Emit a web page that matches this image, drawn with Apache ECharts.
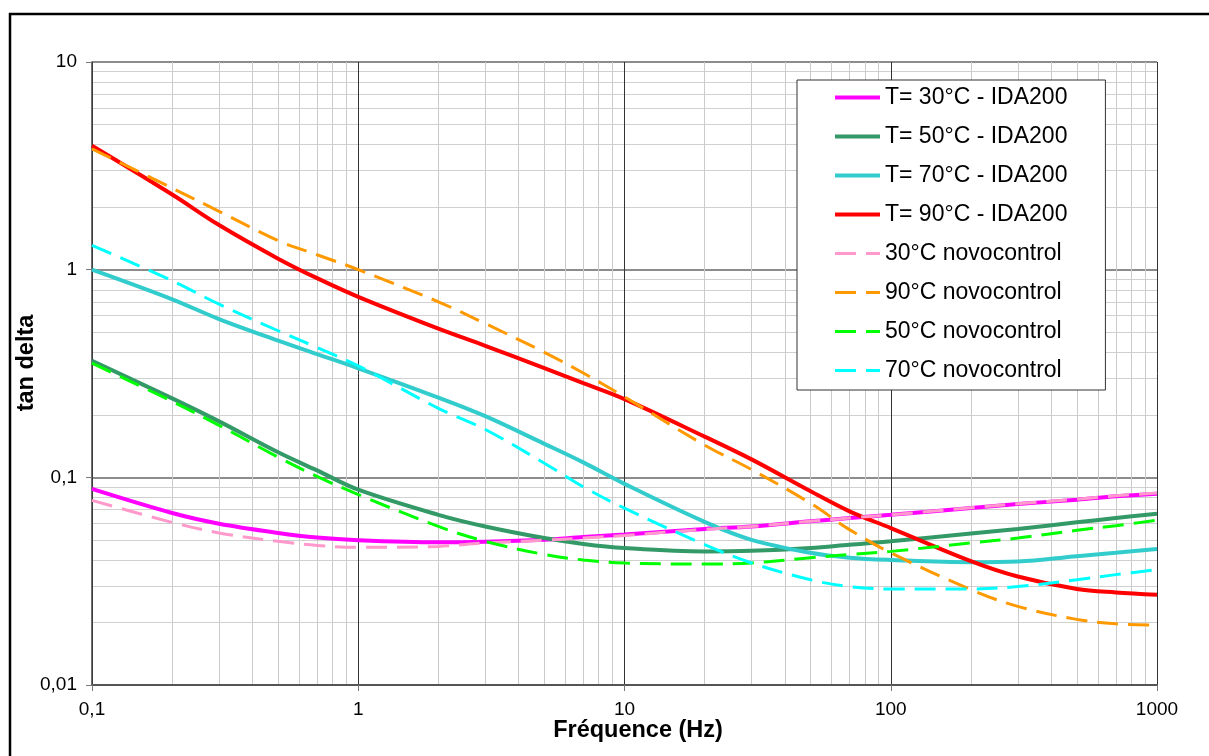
<!DOCTYPE html>
<html>
<head>
<meta charset="utf-8">
<script src="https://cdn.jsdelivr.net/npm/echarts@6/dist/echarts.min.js"></script>
<style>
html,body{margin:0;padding:0;background:#fff;}
#chart{width:1209px;height:756px;}
</style>
</head>
<body>
<div id="chart"></div>
<script>
// ---- data ----
const freq = [0.1,0.2,0.3,0.5,0.7,1,2,3,5,7,10,20,30,50,70,100,200,300,500,700,1000];

const ida30 = [0.0879,0.0673,0.0598,0.054,0.0513,0.0498,0.0487,0.049,0.0501,0.0516,0.053,0.0564,0.058,0.0614,0.0637,0.066,0.0712,0.0744,0.078,0.081,0.0834];
const ida50 = [0.364,0.24,0.186,0.132,0.108,0.0872,0.066,0.058,0.051,0.0478,0.0457,0.044,0.0443,0.0457,0.0474,0.0492,0.0536,0.0564,0.0607,0.0637,0.0668];
const ida70 = [1.0,0.72,0.578,0.455,0.392,0.335,0.242,0.197,0.145,0.118,0.093,0.061,0.050,0.0433,0.041,0.040,0.039,0.0393,0.0417,0.0433,0.0452];
const ida90 = [3.95,2.3,1.64,1.13,0.91,0.74,0.52,0.43,0.336,0.284,0.238,0.157,0.122,0.0857,0.0686,0.057,0.0395,0.0333,0.029,0.0279,0.0272];

const novo30 = [0.0775,0.0607,0.054,0.0492,0.047,0.046,0.0465,0.0483,0.0498,0.051,0.0525,0.0562,0.058,0.0614,0.0637,0.066,0.0714,0.0746,0.0785,0.0815,0.084];
const novo90 = [3.82,2.47,1.91,1.38,1.18,1.0,0.70,0.55,0.40,0.318,0.244,0.143,0.109,0.075,0.056,0.0433,0.0288,0.0239,0.0207,0.0197,0.0194];
const novo50 = [0.355,0.232,0.178,0.125,0.101,0.0826,0.058,0.0492,0.0425,0.040,0.0387,0.0382,0.0387,0.041,0.0425,0.044,0.0483,0.051,0.0556,0.0585,0.0621];
const novo70 = [1.31,0.885,0.682,0.508,0.422,0.344,0.215,0.17,0.117,0.09,0.071,0.0474,0.0387,0.0321,0.0298,0.029,0.029,0.0298,0.0321,0.034,0.0359];

const seriesNames = ['T= 30°C - IDA200','T= 50°C - IDA200','T= 70°C - IDA200','T= 90°C - IDA200',
                     '30°C novocontrol','90°C novocontrol','50°C novocontrol','70°C novocontrol'];

const xTickValues = [0.1,1,10,100,1000];
const xTickLabels = ['0,1','1','10','100','1000'];
const yTickValues = [0.01,0.1,1,10];
const yTickLabels = ['0,01','0,1','1','10'];

const xTitle = 'Fréquence (Hz)';
const yTitle = 'tan delta';

// ---- build ----
function pick(values, labels, v){
  let best = 0, bd = Infinity;
  for (let i = 0; i < values.length; i++){
    const d = Math.abs(Math.log10(values[i]) - Math.log10(v));
    if (d < bd){ bd = d; best = i; }
  }
  return bd < 0.01 ? labels[best] : '';
}
function pairs(ys){ return freq.map((f,i)=>[f, ys[i]]); }

const FONT = 'Liberation Sans, Arial, sans-serif';
const dash = [21,10];
const defs = [
  {d: ida30, color:'#FF00FF', solid:true},
  {d: ida50, color:'#339966', solid:true},
  {d: ida70, color:'#33CCCC', solid:true},
  {d: ida90, color:'#FF0000', solid:true},
  {d: novo30, color:'#FF99CC', solid:false},
  {d: novo90, color:'#FF9900', solid:false},
  {d: novo50, color:'#00FF00', solid:false},
  {d: novo70, color:'#00FFFF', solid:false}
];

const series = defs.map((s,i)=>({
  name: seriesNames[i],
  type: 'line',
  data: pairs(s.d),
  smooth: 0.35,
  symbol: 'none',
  showSymbol: false,
  color: s.color,
  lineStyle: {color: s.color, width: s.solid ? 4 : 3, type: s.solid ? 'solid' : dash, cap: 'butt'},
  emphasis: {disabled: true},
  animation: false
}));

const chart = echarts.init(document.getElementById('chart'), null, {renderer:'canvas'});
chart.setOption({
  backgroundColor: '#ffffff',
  animation: false,
  grid: {left: 92, top: 62, right: 52, bottom: 71, containLabel: false},
  xAxis: {
    type: 'log', logBase: 10, min: 0.1, max: 1000,
    axisLine: {show: true, onZero: false, lineStyle: {color: '#555', width: 2}},
    axisTick: {show: true, length: 6, lineStyle: {color: '#777'}},
    axisLabel: {color: '#000', fontSize: 19, fontFamily: FONT, margin: 15,
      formatter: v => pick(xTickValues, xTickLabels, v)},
    splitLine: {show: true, lineStyle: {color: '#333', width: 1}},
    minorTick: {show: false, splitNumber: 9},
    minorSplitLine: {show: true, lineStyle: {color: '#cacaca', width: 1}}
  },
  yAxis: {
    type: 'log', logBase: 10, min: 0.01, max: 10,
    axisLine: {show: true, onZero: false, lineStyle: {color: '#404040', width: 1.5}},
    axisTick: {show: true, length: 6, lineStyle: {color: '#777'}},
    axisLabel: {color: '#000', fontSize: 19, fontFamily: FONT, margin: 15,
      formatter: v => pick(yTickValues, yTickLabels, v)},
    splitLine: {show: true, lineStyle: {color: '#8c8c8c', width: 2}},
    minorTick: {show: false, splitNumber: 9},
    minorSplitLine: {show: true, lineStyle: {color: '#d0d0d0', width: 1}}
  },
  legend: {
    orient: 'vertical',
    left: 797, top: 80,
    padding: [6, 38, 8, 36],
    itemWidth: 45, itemHeight: 14, itemGap: 16,
    backgroundColor: '#ffffff',
    borderColor: '#333', borderWidth: 1,
    textStyle: {color: '#000', fontSize: 23, fontFamily: FONT},
    itemStyle: {opacity: 0},
    data: seriesNames.map((n,i)=>({
      name: n,
      itemStyle: {opacity: 0},
      lineStyle: {width: defs[i].solid ? 4 : 3, type: defs[i].solid ? 'solid' : dash, color: defs[i].color}
    })),
    selectedMode: false
  },
  graphic: [
    {type:'rect', silent:true, z:100, shape:{x:10, y:14, width:1300, height:900},
     style:{fill:'none', stroke:'#000', lineWidth:2.5}},
    {type:'text', silent:true, x:638, y:731,
     style:{text:xTitle, font:'bold 23.5px ' + FONT, fill:'#000', textAlign:'center', textVerticalAlign:'middle'}},
    {type:'text', silent:true, x:27, y:363, rotation: Math.PI/2,
     style:{text:yTitle, font:'bold 23.5px ' + FONT, fill:'#000', textAlign:'center', textVerticalAlign:'middle'}}
  ],
  series: series
});
</script>
</body>
</html>
